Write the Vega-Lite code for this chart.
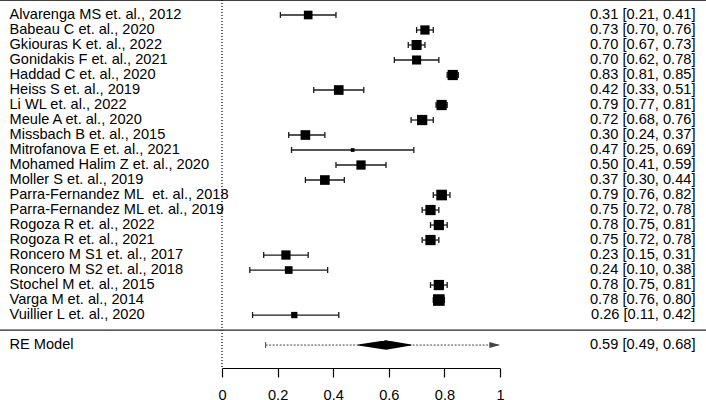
{
  "$schema": "https://vega.github.io/schema/vega-lite/v6.json",
  "width": 278,
  "height": 368,
  "autosize": {"type": "none"},
  "padding": {"left": 222, "right": 206, "top": 0, "bottom": 32},
  "background": "white",
  "config": {"view": {"stroke": null}, "font": "Liberation Sans"},
  "datasets": {
    "studies": [
      {"order": 0, "study": "Alvarenga MS et. al., 2012", "est": 0.31, "lower": 0.21, "upper": 0.41, "weight": 4.4, "label": "0.31 [0.21, 0.41]"},
      {"order": 1, "study": "Babeau C et. al., 2020", "est": 0.73, "lower": 0.70, "upper": 0.76, "weight": 4.7, "label": "0.73 [0.70, 0.76]"},
      {"order": 2, "study": "Gkiouras K et. al., 2022", "est": 0.70, "lower": 0.67, "upper": 0.73, "weight": 5.1, "label": "0.70 [0.67, 0.73]"},
      {"order": 3, "study": "Gonidakis F et. al., 2021", "est": 0.70, "lower": 0.62, "upper": 0.78, "weight": 4.6, "label": "0.70 [0.62, 0.78]"},
      {"order": 4, "study": "Haddad C et. al., 2020", "est": 0.83, "lower": 0.81, "upper": 0.85, "weight": 5.2, "label": "0.83 [0.81, 0.85]"},
      {"order": 5, "study": "Heiss S et. al., 2019", "est": 0.42, "lower": 0.33, "upper": 0.51, "weight": 4.9, "label": "0.42 [0.33, 0.51]"},
      {"order": 6, "study": "Li WL et. al., 2022", "est": 0.79, "lower": 0.77, "upper": 0.81, "weight": 5.2, "label": "0.79 [0.77, 0.81]"},
      {"order": 7, "study": "Meule A et. al., 2020", "est": 0.72, "lower": 0.68, "upper": 0.76, "weight": 5.2, "label": "0.72 [0.68, 0.76]"},
      {"order": 8, "study": "Missbach B et. al., 2015", "est": 0.30, "lower": 0.24, "upper": 0.37, "weight": 4.9, "label": "0.30 [0.24, 0.37]"},
      {"order": 9, "study": "Mitrofanova E et. al., 2021", "est": 0.47, "lower": 0.25, "upper": 0.69, "weight": 1.9, "label": "0.47 [0.25, 0.69]"},
      {"order": 10, "study": "Mohamed Halim Z et. al., 2020", "est": 0.50, "lower": 0.41, "upper": 0.59, "weight": 4.7, "label": "0.50 [0.41, 0.59]"},
      {"order": 11, "study": "Moller S et. al., 2019", "est": 0.37, "lower": 0.30, "upper": 0.44, "weight": 4.9, "label": "0.37 [0.30, 0.44]"},
      {"order": 12, "study": "Parra-Fernandez ML\u00a0 et. al., 2018", "est": 0.79, "lower": 0.76, "upper": 0.82, "weight": 5.4, "label": "0.79 [0.76, 0.82]"},
      {"order": 13, "study": "Parra-Fernandez ML et. al., 2019", "est": 0.75, "lower": 0.72, "upper": 0.78, "weight": 5.2, "label": "0.75 [0.72, 0.78]"},
      {"order": 14, "study": "Rogoza R et. al., 2022", "est": 0.78, "lower": 0.75, "upper": 0.81, "weight": 5.2, "label": "0.78 [0.75, 0.81]"},
      {"order": 15, "study": "Rogoza R et. al., 2021", "est": 0.75, "lower": 0.72, "upper": 0.78, "weight": 5.2, "label": "0.75 [0.72, 0.78]"},
      {"order": 16, "study": "Roncero M S1 et. al., 2017", "est": 0.23, "lower": 0.15, "upper": 0.31, "weight": 4.7, "label": "0.23 [0.15, 0.31]"},
      {"order": 17, "study": "Roncero M S2 et. al., 2018", "est": 0.24, "lower": 0.10, "upper": 0.38, "weight": 3.9, "label": "0.24 [0.10, 0.38]"},
      {"order": 18, "study": "Stochel M et. al., 2015", "est": 0.78, "lower": 0.75, "upper": 0.81, "weight": 5.2, "label": "0.78 [0.75, 0.81]"},
      {"order": 19, "study": "Varga M et. al., 2014", "est": 0.78, "lower": 0.76, "upper": 0.80, "weight": 5.9, "label": "0.78 [0.76, 0.80]"},
      {"order": 20, "study": "Vuillier L et. al., 2020", "est": 0.26, "lower": 0.11, "upper": 0.42, "weight": 3.2, "label": "0.26 [0.11, 0.42]"}
    ],
    "model": [
      {"order": 22, "study": "RE Model", "est": 0.59, "lower": 0.49, "upper": 0.68, "pi_lower": 0.157, "pi_upper": 1.0, "label": "0.59 [0.49, 0.68]"}
    ],
    "diamond": [
      {"x": 0.49, "h": 0},
      {"x": 0.59, "h": 1},
      {"x": 0.68, "h": 0}
    ],
    "one": [{}]
  },
  "layer": [
    {
      "data": {"name": "one"},
      "mark": {"type": "rule", "color": "black", "strokeWidth": 1.2, "strokeDash": [1, 2]},
      "encoding": {
        "x": {"datum": 0, "scale": {"domain": [0, 1], "nice": false, "zero": false},
          "axis": {"values": [0, 0.2, 0.4, 0.6, 0.8, 1], "format": "~g", "labelFlush": false, "tickSize": 9, "tickWidth": 1.2, "tickColor": "black", "domainColor": "black", "domainWidth": 1.2, "labelFontSize": 14.6, "labelColor": "black", "labelPadding": 10, "grid": false, "title": null, "labelFont": "Liberation Sans"}}
      }
    },
    {
      "data": {"name": "one"},
      "mark": {"type": "rule", "color": "black", "strokeWidth": 1.5},
      "encoding": {
        "x": {"datum": -0.8},
        "x2": {"datum": 1.75},
        "y": {"datum": -1, "scale": {"domain": [-1, 23.53], "reverse": true, "nice": false, "zero": false}, "axis": null}
      }
    },
    {
      "data": {"name": "one"},
      "mark": {"type": "rule", "color": "#222222", "strokeWidth": 1.3},
      "encoding": {
        "x": {"datum": -0.8},
        "x2": {"datum": 1.75},
        "y": {"datum": 21, "axis": null}
      }
    },
    {
      "data": {"name": "studies"},
      "mark": {"type": "rule", "color": "#1a1a1a", "strokeWidth": 1.3},
      "encoding": {
        "x": {"field": "lower", "type": "quantitative"},
        "x2": {"field": "upper"},
        "y": {"field": "order", "type": "quantitative", "axis": null}
      }
    },
    {
      "data": {"name": "studies"},
      "mark": {"type": "tick", "orient": "vertical", "size": 6, "thickness": 1.3, "color": "#1a1a1a", "opacity": 1},
      "encoding": {
        "x": {"field": "lower", "type": "quantitative"},
        "y": {"field": "order", "type": "quantitative", "axis": null}
      }
    },
    {
      "data": {"name": "studies"},
      "mark": {"type": "tick", "orient": "vertical", "size": 6, "thickness": 1.3, "color": "#1a1a1a", "opacity": 1},
      "encoding": {
        "x": {"field": "upper", "type": "quantitative"},
        "y": {"field": "order", "type": "quantitative", "axis": null}
      }
    },
    {
      "data": {"name": "studies"},
      "mark": {"type": "point", "shape": "square", "filled": true, "color": "black", "opacity": 1, "strokeWidth": 0},
      "encoding": {
        "x": {"field": "est", "type": "quantitative"},
        "y": {"field": "order", "type": "quantitative", "axis": null},
        "size": {"field": "weight", "type": "quantitative", "scale": {"type": "pow", "exponent": 2, "domain": [0, 6], "range": [0, 139.5]}, "legend": null}
      }
    },
    {
      "data": {"name": "studies"},
      "mark": {"type": "text", "align": "left", "baseline": "middle", "fontSize": 14.6, "color": "black", "font": "Liberation Sans"},
      "encoding": {
        "x": {"datum": -0.7644},
        "y": {"field": "order", "type": "quantitative", "axis": null},
        "text": {"field": "study"}
      }
    },
    {
      "data": {"name": "studies"},
      "mark": {"type": "text", "align": "right", "baseline": "middle", "fontSize": 14.6, "color": "black", "font": "Liberation Sans"},
      "encoding": {
        "x": {"datum": 1.703},
        "y": {"field": "order", "type": "quantitative", "axis": null},
        "text": {"field": "label"}
      }
    },
    {
      "data": {"name": "model"},
      "mark": {"type": "rule", "color": "#444444", "strokeWidth": 1, "strokeDash": [2, 1.5]},
      "encoding": {
        "x": {"field": "pi_lower", "type": "quantitative"},
        "x2": {"field": "pi_upper"},
        "y": {"field": "order", "type": "quantitative", "axis": null}
      }
    },
    {
      "data": {"name": "model"},
      "mark": {"type": "tick", "orient": "vertical", "size": 6, "thickness": 1, "color": "#444444", "opacity": 1},
      "encoding": {
        "x": {"field": "pi_lower", "type": "quantitative"},
        "y": {"field": "order", "type": "quantitative", "axis": null}
      }
    },
    {
      "data": {"name": "model"},
      "mark": {"type": "point", "shape": "M-2,-0.56L0,0L-2,0.56Z", "filled": true, "color": "#444444", "opacity": 1, "strokeWidth": 0, "size": 114},
      "encoding": {
        "x": {"field": "pi_upper", "type": "quantitative"},
        "y": {"field": "order", "type": "quantitative", "axis": null}
      }
    },
    {
      "data": {"name": "diamond"},
      "mark": {"type": "trail", "color": "black", "opacity": 1},
      "encoding": {
        "x": {"field": "x", "type": "quantitative"},
        "y": {"datum": 22, "axis": null},
        "order": {"field": "x"},
        "size": {"field": "h", "type": "quantitative", "scale": {"domain": [0, 1], "range": [0, 9.6]}, "legend": null}
      }
    },
    {
      "data": {"name": "model"},
      "mark": {"type": "text", "align": "left", "baseline": "middle", "fontSize": 14.6, "color": "black", "font": "Liberation Sans"},
      "encoding": {
        "x": {"datum": -0.7644},
        "y": {"field": "order", "type": "quantitative", "axis": null},
        "text": {"field": "study"}
      }
    },
    {
      "data": {"name": "model"},
      "mark": {"type": "text", "align": "right", "baseline": "middle", "fontSize": 14.6, "color": "black", "font": "Liberation Sans"},
      "encoding": {
        "x": {"datum": 1.703},
        "y": {"field": "order", "type": "quantitative", "axis": null},
        "text": {"field": "label"}
      }
    }
  ],
  "resolve": {"scale": {"size": "independent"}}
}
